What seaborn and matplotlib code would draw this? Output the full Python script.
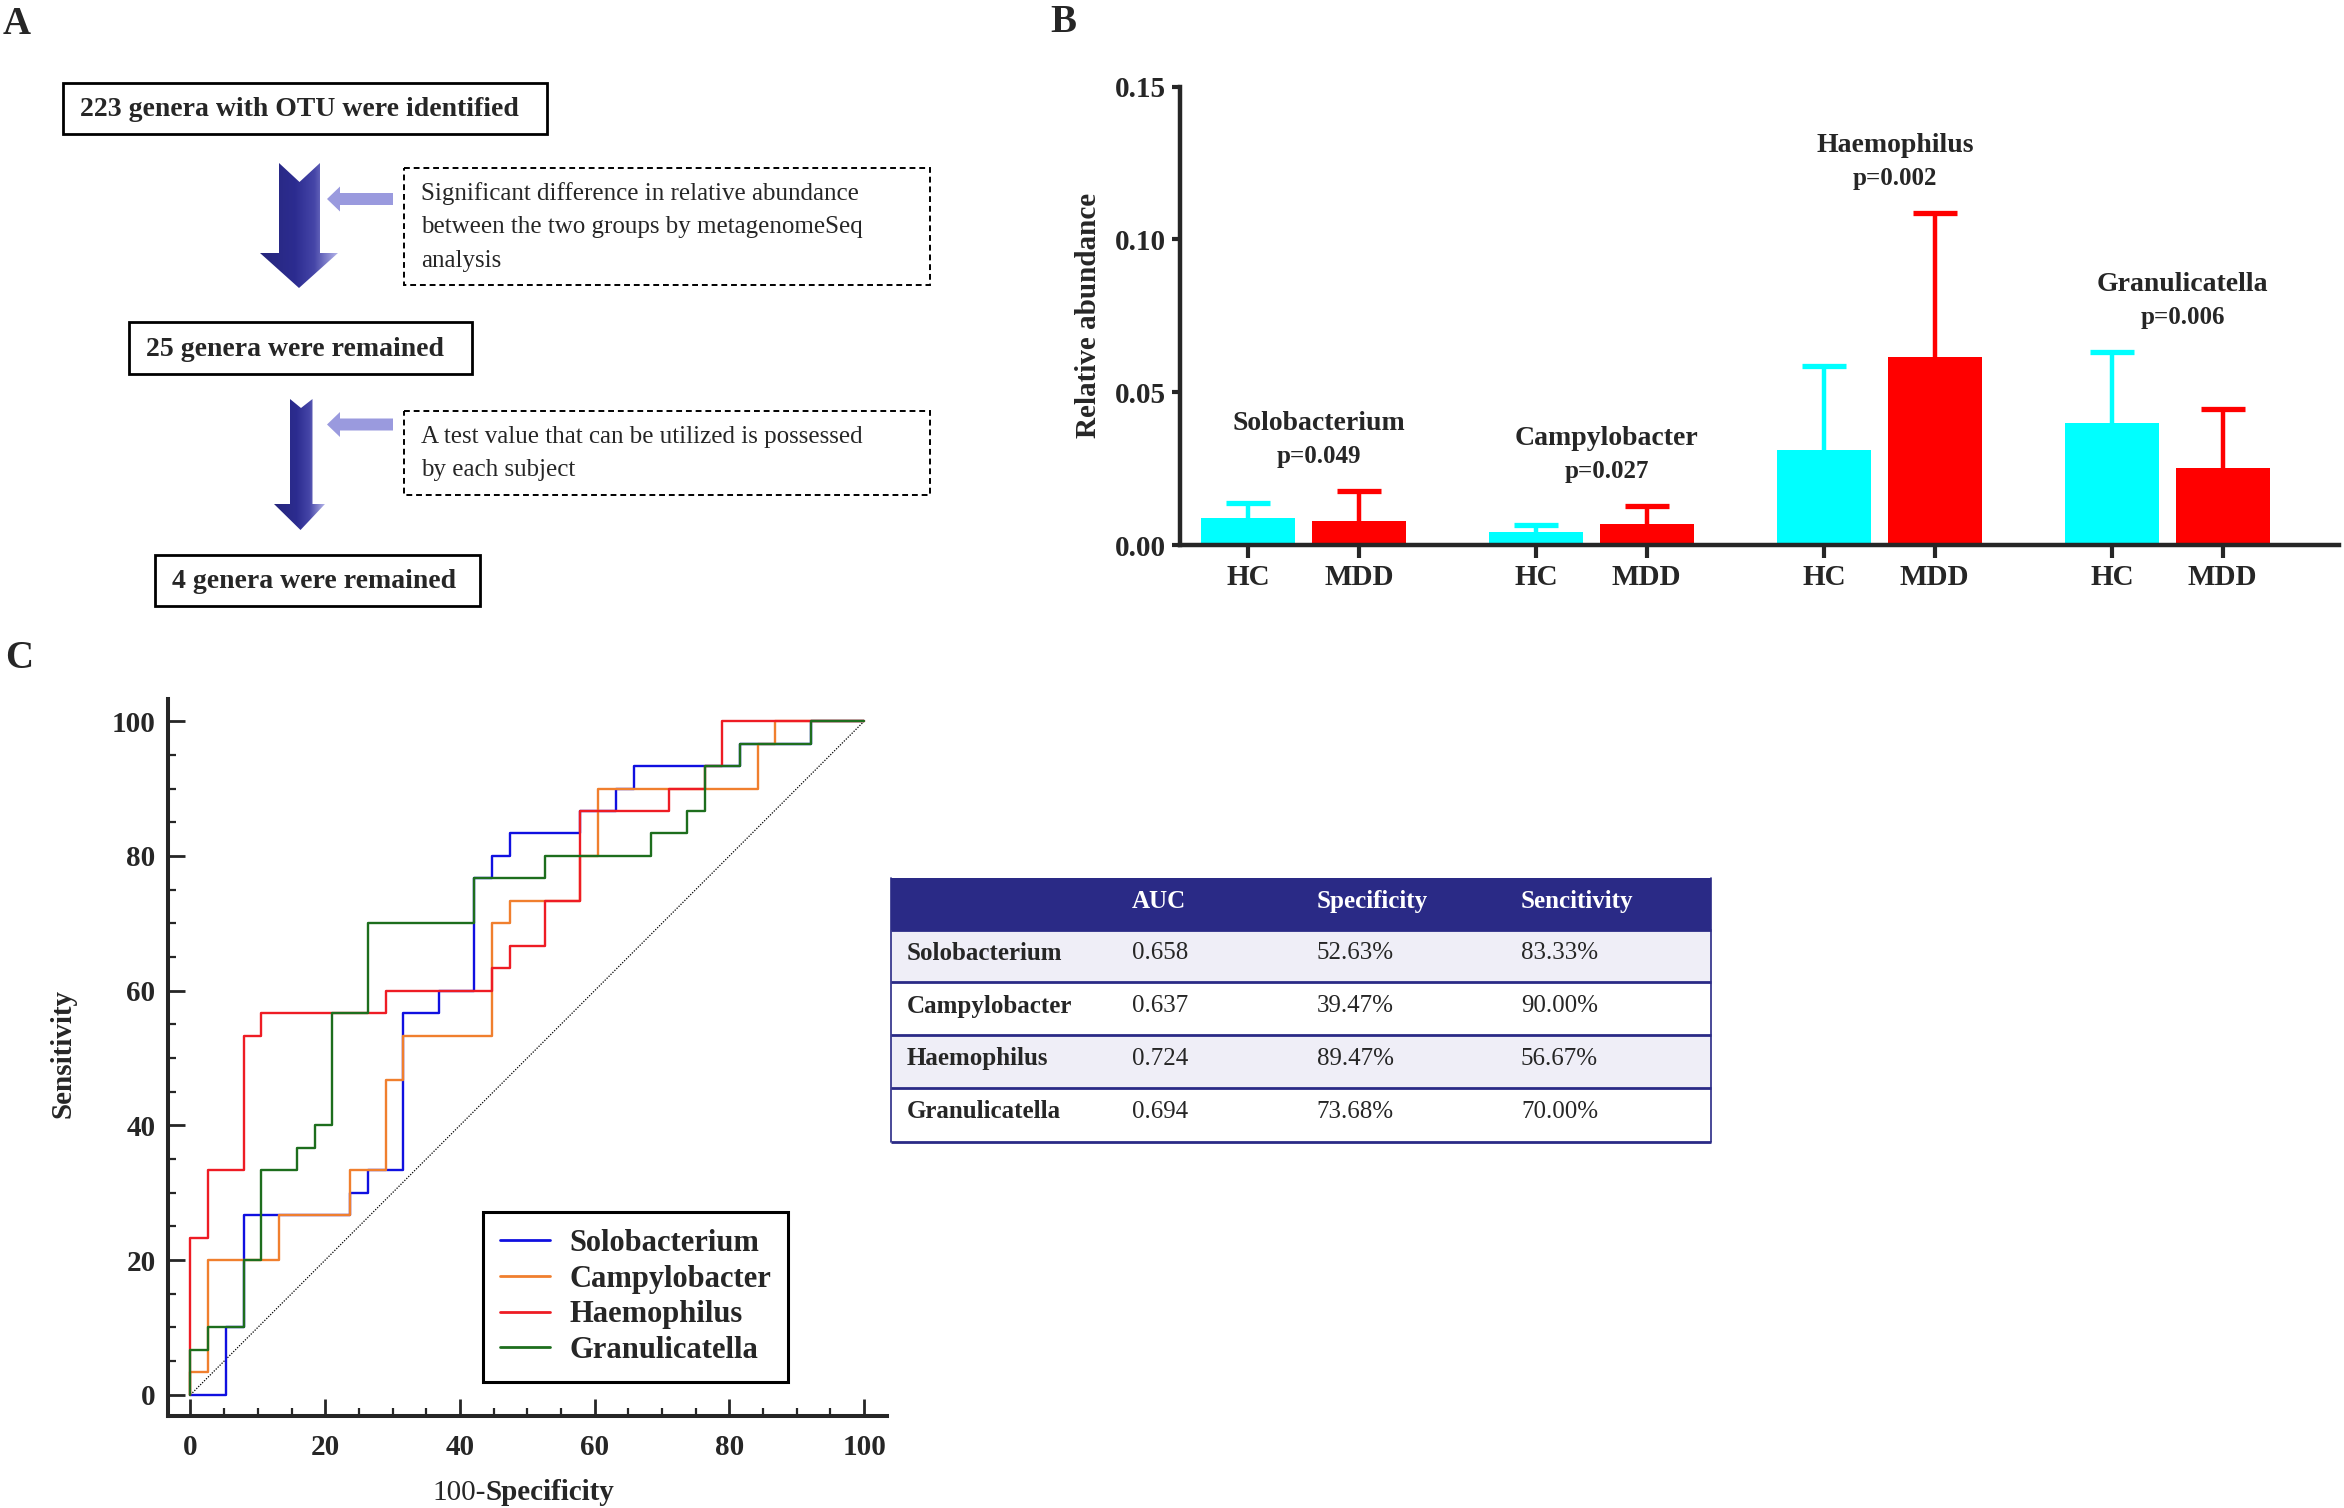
import numpy as np
import pandas as pd
import matplotlib
matplotlib.use("Agg")
import matplotlib.pyplot as plt
import seaborn as sns
from matplotlib.patches import Polygon, Rectangle
from matplotlib.colors import LinearSegmentedColormap
from matplotlib.lines import Line2D
from matplotlib.ticker import MultipleLocator, FormatStrFormatter

# ---------------- data ----------------
genera = ["Solobacterium", "Campylobacter", "Haemophilus", "Granulicatella"]
groups = ["HC", "MDD"]
hc_mean = [0.0088, 0.0044, 0.0310, 0.0400]
hc_err = [0.0048, 0.0022, 0.0275, 0.0232]
mdd_mean = [0.0077, 0.0069, 0.0614, 0.0253]
mdd_err = [0.0100, 0.0060, 0.0473, 0.0192]
p_values = ["p=0.049", "p=0.027", "p=0.002", "p=0.006"]
b_yticks = [0.00, 0.05, 0.10, 0.15]

# ROC staircases (100-Specificity, Sensitivity), in %
solo_x = [0, 5.26, 5.26, 7.89, 7.89, 23.68, 23.68, 26.32, 26.32, 31.58, 31.58, 36.84, 36.84, 42.11, 42.11,
          44.74, 44.74, 47.37, 47.37, 57.89, 57.89, 63.16, 63.16, 65.79, 65.79, 81.58, 81.58, 92.11, 92.11, 100]
solo_y = [0, 0, 10, 10, 26.67, 26.67, 30, 30, 33.33, 33.33, 56.67, 56.67, 60, 60, 76.67,
          76.67, 80, 80, 83.33, 83.33, 86.67, 86.67, 90, 90, 93.33, 93.33, 96.67, 96.67, 100, 100]
camp_x = [0, 0, 2.63, 2.63, 13.16, 13.16, 23.68, 23.68, 28.95, 28.95, 31.58, 31.58, 44.74, 44.74, 47.37,
          47.37, 57.89, 57.89, 60.53, 60.53, 84.21, 84.21, 86.84, 86.84, 100]
camp_y = [0, 3.33, 3.33, 20, 20, 26.67, 26.67, 33.33, 33.33, 46.67, 46.67, 53.33, 53.33, 70, 70,
          73.33, 73.33, 80, 80, 90, 90, 96.67, 96.67, 100, 100]
haem_x = [0, 0, 2.63, 2.63, 7.89, 7.89, 10.53, 10.53, 28.95, 28.95, 44.74, 44.74, 47.37, 47.37, 52.63,
          52.63, 57.89, 57.89, 71.05, 71.05, 76.32, 76.32, 78.95, 78.95, 100]
haem_y = [0, 23.33, 23.33, 33.33, 33.33, 53.33, 53.33, 56.67, 56.67, 60, 60, 63.33, 63.33, 66.67, 66.67,
          73.33, 73.33, 86.67, 86.67, 90, 90, 93.33, 93.33, 100, 100]
gran_x = [0, 0, 2.63, 2.63, 7.89, 7.89, 10.53, 10.53, 15.79, 15.79, 18.42, 18.42, 21.05, 21.05, 26.32, 26.32,
          42.11, 42.11, 52.63, 52.63, 68.42, 68.42, 73.68, 73.68, 76.32, 76.32, 81.58, 81.58, 92.11, 92.11, 100]
gran_y = [0, 6.67, 6.67, 10, 10, 20, 20, 33.33, 33.33, 36.67, 36.67, 40, 40, 56.67, 56.67, 70,
          70, 76.67, 76.67, 80, 80, 83.33, 83.33, 86.67, 86.67, 93.33, 93.33, 96.67, 96.67, 100, 100]
roc_ticks = [0, 20, 40, 60, 80, 100]

# table
table_header = ["", "AUC", "Specificity", "Sencitivity"]
table_auc = ["0.658", "0.637", "0.724", "0.694"]
table_spec = ["52.63%", "39.47%", "89.47%", "73.68%"]
table_sens = ["83.33%", "90.00%", "56.67%", "70.00%"]

# flowchart text
flow_boxes = ["223 genera with OTU were identified", "25 genera were remained", "4 genera were remained"]
flow_notes = [["Significant difference in relative abundance",
               "between the two groups by metagenomeSeq", "analysis"],
              ["A test value that can be utilized is possessed", "by each subject"]]

# ---------------- style ----------------
sns.set_style("ticks")
plt.rcParams["font.family"] = ["Liberation Serif", "DejaVu Serif"]
plt.rcParams["font.weight"] = "bold"
plt.rcParams["axes.labelweight"] = "bold"

W, H = 2344, 1508
fig = plt.figure(figsize=(W / 100, H / 100), dpi=100)


def rect(l, t, r, b):
    return [l / W, 1 - b / H, (r - l) / W, (b - t) / H]


# overlay axes in pixel coordinates (panel A, table, letters)
ov = fig.add_axes([0, 0, 1, 1])
ov.axis("off")

# ---------------- panel A ----------------
NAVY = "#2a2a86"
arrow_cmap = LinearSegmentedColormap.from_list(
    "arr", [(0, "#26267c"), (0.45, "#2c2c90"), (0.7, "#4646a8"), (1.0, "#b4b4ea")])


def grad_arrow(verts):
    poly = Polygon(verts, closed=True, facecolor="none", edgecolor="none")
    ov.add_patch(poly)
    xs = [v[0] for v in verts]
    ys = [v[1] for v in verts]
    grad = np.linspace(0, 1, 256).reshape(1, -1)
    im = ov.imshow(grad, cmap=arrow_cmap, extent=(min(xs), max(xs), max(ys), min(ys)),
                   aspect="auto", interpolation="bilinear", zorder=2)
    im.set_clip_path(poly)


grad_arrow([(279, 163), (299.5, 182), (320, 163), (320, 253), (338, 253), (299, 288), (260, 253), (279, 253)])
grad_arrow([(290, 399), (301, 408), (312.5, 399), (312.5, 504), (325, 504), (300.5, 530), (274, 504), (290, 504)])

SMALL = "#9a9ade"
for cy in (199, 424.5):
    ov.add_patch(Polygon([(327, cy), (340, cy - 12.5), (340, cy - 6), (393, cy - 6), (393, cy + 6),
                          (340, cy + 6), (340, cy + 12.5)], closed=True, facecolor=SMALL,
                         edgecolor="none", zorder=2))

solid_boxes = [(62.5, 83, 547, 133.5), (129, 322, 472, 374), (155, 555, 480, 606)]
for (l, t, r, b), txt in zip(solid_boxes, flow_boxes):
    ov.add_patch(Rectangle((l, t), r - l, b - t, facecolor="white", edgecolor="black", lw=2.0, zorder=2))
    ov.text(l + 17, (t + b) / 2 + 1, txt, fontsize=20, fontweight="bold", ha="left", va="center", zorder=3)

dashed_boxes = [(404, 168, 930, 285), (404, 411, 930, 495)]
note_y = [[193.7, 227.3, 260.9], [436.8, 470.4]]
for (l, t, r, b), lines, ys in zip(dashed_boxes, flow_notes, note_y):
    ov.add_patch(Rectangle((l, t), r - l, b - t, facecolor="none", edgecolor="black", lw=1.4,
                           ls=(0, (3, 2)), zorder=2))
    for s, y in zip(lines, ys):
        ov.text(421, y, s, fontsize=18, fontweight="normal", ha="left", va="center", zorder=3)

# panel letters
for letter, x, y in [("A", 3, 34), ("B", 1050, 32), ("C", 5, 668)]:
    ov.text(x, y, letter, fontsize=28, fontweight="bold", ha="left", va="baseline")

# ---------------- table ----------------
tl, tr = 890.7, 1711
t_rows = [877.5, 930.4, 982.2, 1035, 1088, 1142]
ov.add_patch(Rectangle((tl, t_rows[0]), tr - tl, t_rows[1] - t_rows[0], facecolor=NAVY, edgecolor="none"))
for i in range(4):
    fc = "#efeef7" if i % 2 == 0 else "white"
    ov.add_patch(Rectangle((tl, t_rows[i + 1]), tr - tl, t_rows[i + 2] - t_rows[i + 1], facecolor=fc,
                           edgecolor="none"))
for y in t_rows[1:]:
    ov.plot([tl, tr], [y, y], color=NAVY, lw=2.0, solid_capstyle="butt")
for x in (tl, tr):
    ov.plot([x, x], [t_rows[0], t_rows[-1]], color=NAVY, lw=1.2)
col_x = [906.8, 1131.7, 1316.5, 1521]
text_y = [901.5, 953, 1006, 1059, 1111.5]
for cx, h in zip(col_x, table_header):
    ov.text(cx, text_y[0], h, color="white", fontsize=18, fontweight="bold", ha="left", va="center")
for i in range(4):
    ov.text(col_x[0], text_y[i + 1], genera[i], fontsize=18, fontweight="bold", ha="left", va="center")
    for cx, col in zip(col_x[1:], (table_auc, table_spec, table_sens)):
        ov.text(cx, text_y[i + 1], col[i], fontsize=18, fontweight="normal", ha="left", va="center")

ov.set_xlim(0, W)
ov.set_ylim(H, 0)

# ---------------- panel B ----------------
GROUP_STEP = 2.6
rows = []
for gi, g in enumerate(genera):
    rows.append(dict(genus=g, group="HC", mean=hc_mean[gi], err=hc_err[gi], pos=gi * GROUP_STEP))
    rows.append(dict(genus=g, group="MDD", mean=mdd_mean[gi], err=mdd_err[gi], pos=gi * GROUP_STEP + 1))
df_b = pd.DataFrame(rows)
pal = {"HC": "#00ffff", "MDD": "#ff0000"}

axB = fig.add_axes(rect(1180, 86.7, 2339, 545))
axB.patch.set_alpha(0)
sns.barplot(data=df_b, x="pos", y="mean", hue="group", palette=pal, native_scale=True, width=0.85,
            dodge=False, errorbar=None, saturation=1, legend=False, linewidth=0, ax=axB, zorder=2)
for grp in groups:
    sub = df_b[df_b.group == grp]
    eb = axB.errorbar(sub.pos, sub["mean"], yerr=[np.zeros(len(sub)), sub.err], fmt="none",
                      ecolor=pal[grp], elinewidth=3.2, capsize=15.5, capthick=3.8, zorder=1)
    caps = eb[1]
    if len(caps) == 2:
        caps[0].set_visible(False)
for gi, g in enumerate(genera):
    top = max(hc_mean[gi] + hc_err[gi], mdd_mean[gi] + mdd_err[gi])
    cx = gi * GROUP_STEP + 0.64
    axB.text(cx, top + 0.022, g, ha="center", va="center", fontsize=20, fontweight="bold")
    axB.text(cx, top + 0.0113, p_values[gi], ha="center", va="center", fontsize=18, fontweight="bold")

axB.set_xlim(-0.614, 9.85)
axB.set_ylim(0, 0.15)
axB.set_yticks(b_yticks)
axB.yaxis.set_major_formatter(FormatStrFormatter("%.2f"))
axB.set_xticks(df_b.pos, df_b.group)
axB.set_xlabel("")
axB.set_ylabel("Relative abundance", fontsize=21, fontweight="bold", va="center")
axB.yaxis.set_label_coords(-0.079, 0.5)
sns.despine(ax=axB)
for s in ("left", "bottom"):
    axB.spines[s].set_linewidth(3.2)
axB.tick_params(axis="y", length=6, width=3, pad=4, labelsize=21)
axB.tick_params(axis="x", length=9, width=3, pad=5, labelsize=21)
for lab in axB.get_xticklabels() + axB.get_yticklabels():
    lab.set_fontweight("bold")

# ---------------- panel C ----------------
axC = fig.add_axes(rect(168, 699, 887, 1415.6))
axC.patch.set_alpha(0)
axC.plot([0, 100], [0, 100], color="black", lw=0.9, ls=(0, (1, 1.2)), zorder=1)
roc_colors = ["#1010e0", "#f07f2e", "#ee1c24", "#1d6e1d"]
roc_xy = [(solo_x, solo_y), (camp_x, camp_y), (haem_x, haem_y), (gran_x, gran_y)]
for (xs, ys), c in zip(roc_xy, roc_colors):
    sns.lineplot(x=xs, y=ys, sort=False, estimator=None, color=c, lw=1.7, ax=axC, zorder=3)
axC.set_xlim(-3.34, 103.4)
axC.set_ylim(-3.1, 103.3)
axC.set_xticks(roc_ticks)
axC.set_yticks(roc_ticks)
axC.xaxis.set_minor_locator(MultipleLocator(5))
axC.yaxis.set_minor_locator(MultipleLocator(5))
sns.despine(ax=axC)
for s in ("left", "bottom"):
    axC.spines[s].set_linewidth(2.9)
axC.tick_params(which="major", direction="in", length=12.5, width=2.0, labelsize=21)
axC.tick_params(which="minor", direction="in", length=5.5, width=1.6)
axC.tick_params(axis="x", which="major", pad=13)
axC.tick_params(axis="y", which="major", pad=9)
for lab in axC.get_xticklabels() + axC.get_yticklabels():
    lab.set_fontweight("bold")
axC.set_ylabel("Sensitivity", fontsize=21, fontweight="bold", va="center")
axC.yaxis.set_label_coords(-0.146, 0.506)
axC.set_xlabel("")
axC.text(0.442, -0.118, "100-", transform=axC.transAxes, ha="right", va="baseline", fontsize=21,
         fontweight="normal")
axC.text(0.442, -0.118, "Specificity", transform=axC.transAxes, ha="left", va="baseline", fontsize=21,
         fontweight="bold")

handles = [Line2D([], [], color=c, lw=2.0) for c in roc_colors]
leg = axC.legend(handles, genera, loc="upper left", bbox_to_anchor=(0.438, 0.284), frameon=True,
                 fancybox=False, edgecolor="black", framealpha=1, prop={"size": 22, "weight": "bold"},
                 handlelength=1.65, handletextpad=0.62, labelspacing=0.22, borderpad=0.55,
                 borderaxespad=0)
leg.get_frame().set_linewidth(2.2)

fig.savefig("out.png", dpi=100)
